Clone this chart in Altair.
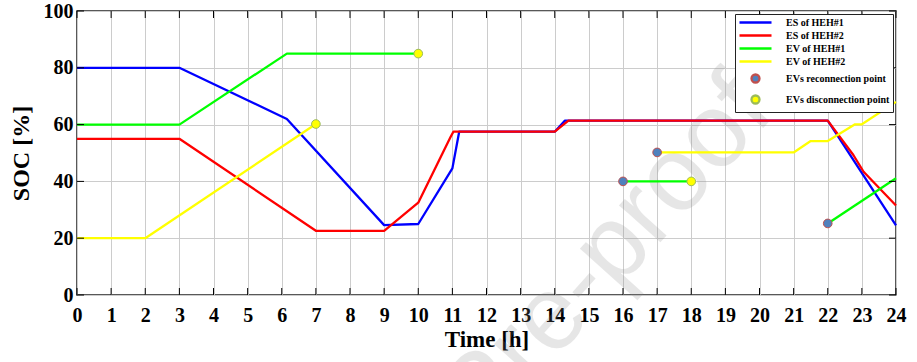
import altair as alt
import pandas as pd

# ---------------- data ----------------
hours = list(range(0, 25))
soc_ticks = [0, 20, 40, 60, 80, 100]

series_names = ["ES of HEH#1", "ES of HEH#2", "EV of HEH#1", "EV of HEH#2"]
point_names = ["EVs reconnection point", "EVs disconnection point"]

es1_t = [0, 3, 6.15, 9, 10, 11, 11.2, 14, 14.3, 22, 24]
es1_v = [80, 80, 62, 24.6, 25, 44.6, 57.5, 57.5, 61.4, 61.4, 24.5]

es2_t = [0, 3, 7, 9, 10, 10.95, 11.03, 14, 14.4, 22, 22.75, 23.05, 24]
es2_v = [55, 55, 22.6, 22.6, 32.5, 55.7, 57.5, 57.5, 61.4, 61.4, 49.3, 43.4, 31.5]

ev1_seg1_t = [0, 3, 6.15, 10]
ev1_seg1_v = [60, 60, 85, 85]
ev1_seg2_t = [16, 18]
ev1_seg2_v = [40, 40]
ev1_seg3_t = [22, 24]
ev1_seg3_v = [25.2, 41.1]

ev2_seg1_t = [0, 2, 7]
ev2_seg1_v = [20, 20, 60.2]
ev2_seg2_t = [17, 21, 21.5, 22, 22.8, 23, 24]
ev2_seg2_v = [50.2, 50.2, 54.2, 54.2, 60.1, 60.1, 68]

reconnect_t = [16, 17, 22]
reconnect_v = [40, 50.2, 25.2]
disconnect_t = [10, 7, 18]
disconnect_v = [85, 60.2, 40]

watermark_text = ["Journal Pre-proof"]
watermark_t = [20.5]
watermark_v = [64]

# ---------------- styling ----------------
all_names = series_names + point_names
stroke_colors = ["#0000FF", "#FF0000", "#00FF00", "#FFFF00", "#C0504D", "#9BBB59"]
fill_colors = ["transparent"] * 4 + ["#4F81BD", "#FFFF00"]
stroke_widths = [2.3, 2.3, 3.8, 3.8, 1, 1]
LINE_PATH = "M-4,0H4"
shapes = [LINE_PATH] * 4 + ["circle", "circle"]
FONT = "Liberation Serif"
W, H, TICK = 819, 284, 7

# ---------------- tables ----------------
rows = []
def add(name, seg, ts, vs):
    for t, v in zip(ts, vs):
        rows.append({"name": name, "seg": seg, "t": t, "v": v})

add(series_names[0], "a1", es1_t, es1_v)
add(series_names[1], "b1", es2_t, es2_v)
add(series_names[2], "c1", ev1_seg1_t, ev1_seg1_v)
add(series_names[2], "c2", ev1_seg2_t, ev1_seg2_v)
add(series_names[2], "c3", ev1_seg3_t, ev1_seg3_v)
add(series_names[3], "d1", ev2_seg1_t, ev2_seg1_v)
add(series_names[3], "d2", ev2_seg2_t, ev2_seg2_v)
lines_df = pd.DataFrame(rows)

pts = []
for t, v in zip(reconnect_t, reconnect_v):
    pts.append({"name": point_names[0], "t": t, "v": v})
for t, v in zip(disconnect_t, disconnect_v):
    pts.append({"name": point_names[1], "t": t, "v": v})
points_df = pd.DataFrame(pts)

wm_df = pd.DataFrame({"t": watermark_t, "v": watermark_v, "txt": watermark_text})
hours_df = pd.DataFrame({"t": hours})
soc_df = pd.DataFrame({"v": soc_ticks})

xscale = alt.Scale(domain=[0, 24], nice=False, zero=False)
yscale = alt.Scale(domain=[0, 100], nice=False, zero=True)

legend = alt.Legend(
    title=None, orient="top-right", offset=3, padding=3,
    strokeColor="#222222", fillColor="white",
    symbolSize=64, symbolOffset=12, labelOffset=25, rowPadding=2,
    symbolOpacity=1,
    labelFont=FONT, labelFontWeight="bold", labelColor="black",
    labelFontSize=10, labelLimit=200,
)

color_scale = alt.Scale(domain=all_names, range=stroke_colors)
fill_scale = alt.Scale(domain=all_names, range=fill_colors)
width_scale = alt.Scale(domain=all_names, range=stroke_widths)
shape_scale = alt.Scale(domain=all_names, range=shapes)

x_main = alt.Axis(
    values=hours, title="Time [h]", orient="bottom", ticks=False,
    labelPadding=10, domain=False, grid=True,
    gridColor="#cccccc", gridWidth=1, labelFont=FONT, labelFontSize=20,
    labelFontWeight="bold", labelColor="black", titleFont=FONT,
    titleFontSize=23, titleFontWeight="bold", titleColor="black",
    titlePadding=3, format="d", labelFlush=False, labelOverlap=False,
)
y_main = alt.Axis(
    values=soc_ticks, title="SOC [%]", orient="left", ticks=False,
    labelPadding=4, domain=False, grid=True,
    gridColor="#cccccc", gridWidth=1, labelFont=FONT, labelFontSize=20,
    labelFontWeight="bold", labelColor="black", titleFont=FONT,
    titleFontSize=24, titleFontWeight="bold", titleColor="black",
    titlePadding=10, format="d", labelFlush=False, labelOverlap=False,
)

watermark = alt.Chart(wm_df).mark_text(
    angle=312, fontSize=105, font="Liberation Sans", color="#888888",
    opacity=0.2, align="right", baseline="alphabetic",
).encode(
    x=alt.X("t:Q", scale=xscale, axis=None),
    y=alt.Y("v:Q", scale=yscale, axis=None),
    text="txt:N",
)

lines = alt.Chart(lines_df).mark_line(strokeJoin="round").encode(
    x=alt.X("t:Q", scale=xscale, axis=x_main),
    y=alt.Y("v:Q", scale=yscale, axis=y_main),
    color=alt.Color("name:N", scale=color_scale, legend=legend),
    strokeWidth=alt.StrokeWidth("name:N", scale=width_scale, legend=legend),
    detail="seg:N",
)

# inward frame ticks at the axis values (bottom, top, left, right)
tick_style = dict(color="black", strokeWidth=1)
ticks_bottom = alt.Chart(hours_df).mark_rule(**tick_style).encode(
    x=alt.X("t:Q", scale=xscale, axis=None),
    y=alt.value(H), y2=alt.value(H - TICK))
ticks_top = alt.Chart(hours_df).mark_rule(**tick_style).encode(
    x=alt.X("t:Q", scale=xscale, axis=None),
    y=alt.value(0), y2=alt.value(TICK))
ticks_left = alt.Chart(soc_df).mark_rule(**tick_style).encode(
    y=alt.Y("v:Q", scale=yscale, axis=None),
    x=alt.value(0), x2=alt.value(TICK))
ticks_right = alt.Chart(soc_df).mark_rule(**tick_style).encode(
    y=alt.Y("v:Q", scale=yscale, axis=None),
    x=alt.value(W), x2=alt.value(W - TICK))

points = alt.Chart(points_df).mark_point(filled=False, size=75, opacity=1, strokeWidth=1).encode(
    x=alt.X("t:Q", scale=xscale, axis=None),
    y=alt.Y("v:Q", scale=yscale, axis=None),
    color=alt.Color("name:N", scale=color_scale, legend=legend),
    fill=alt.Fill("name:N", scale=fill_scale, legend=legend),
    shape=alt.Shape("name:N", scale=shape_scale, legend=legend),
)

chart = alt.layer(
    watermark, lines, ticks_bottom, ticks_top, ticks_left, ticks_right, points
).resolve_axis(
    x="independent", y="independent"
).properties(
    width=W, height=H,
    autosize=alt.AutoSizeParams(type="none"),
    padding={"left": 77, "top": 11, "right": 21, "bottom": 67},
    background="white",
).configure_view(stroke="#222222", strokeWidth=1.5)

chart.save("out.html", embed_options={"renderer": "svg", "actions": False})
